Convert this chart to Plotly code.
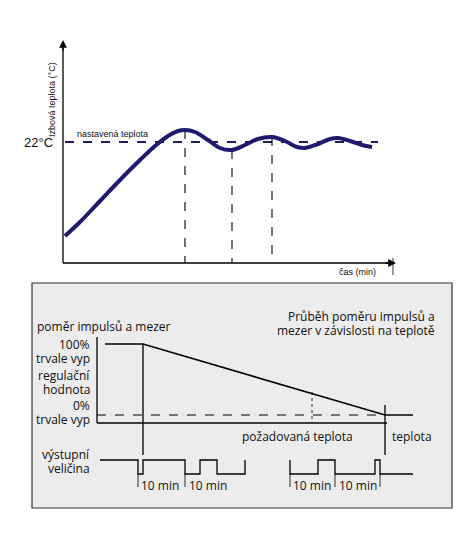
import plotly.graph_objects as go

NAVY = "#1f1a6e"

# top chart: room temperature curve (pixel-like diagram coordinates)
curve_x = [65, 80, 100, 120, 140, 155, 168, 178, 185, 195, 208, 220, 232, 245, 258, 272, 285, 297, 305, 318, 330, 338, 350, 362, 372]
curve_y = [236, 222, 201, 180, 160, 146, 136, 131, 130, 132, 140, 148, 150, 145, 139, 137, 141, 147, 148, 144, 139, 138, 141, 145, 147]
setpoint_x = [65, 378]
setpoint_y = [142, 142]
marker_x = [185, 232, 272]
marker_top = [130, 150, 137]

# bottom chart: pulse ratio vs temperature
ratio_x = [105, 143, 385, 413]
ratio_y = [344, 344, 415, 415]
out1_x = [100, 138, 138, 143, 143, 185, 185, 200, 200, 217, 217, 245, 245]
out1_y = [460, 460, 474, 474, 460, 460, 474, 474, 460, 460, 474, 474, 460]
out2_x = [290, 290, 290, 318, 318, 335, 335, 375, 375, 380, 380, 413]
out2_y = [460, 474, 474, 474, 460, 460, 474, 474, 460, 460, 474, 474]
tick_x = [138, 185, 290, 335, 380]
period_x = [160, 208, 312, 358]

fig = go.Figure()


def line(x, y, color="black", width=1.3, dash="solid", shape="linear"):
    fig.add_trace(go.Scatter(x=x, y=y, mode="lines", hoverinfo="skip",
                             line=dict(color=color, width=width, dash=dash, shape=shape)))


# top axes
line([63, 63], [263, 48])
line([63, 388], [263, 263])
line([393, 393], [258, 275], width=0.8)
line(setpoint_x, setpoint_y, NAVY, 2.2, "dash")
for mx, mt in zip(marker_x, marker_top):
    line([mx, mx], [mt, 263], "black", 1.1, "dash")
line(curve_x, curve_y, NAVY, 4, shape="spline")

# bottom box
fig.add_shape(type="rect", x0=32, y0=283, x1=452, y1=508, fillcolor="#ececec",
              line=dict(color="#333", width=1.2), layer="below")
line([97, 97], [337, 423])
line([97, 387], [423, 423])
line([97, 385], [415, 415], "black", 1, "dash")
line(ratio_x, ratio_y, "black", 1.6)
line([143, 143], [344, 455])
line([312, 312], [392, 423], "black", 0.8, "dot")
line([385, 385], [405, 455])
line(out1_x, out1_y)
line(out2_x, out2_y)
for tx in tick_x:
    line([tx, tx], [474, 487], width=0.8)

arrows = [dict(x=63, y=40, ax=63, ay=52), dict(x=396, y=263, ax=384, ay=263)]
for a in arrows:
    fig.add_annotation(x=a["x"], y=a["y"], ax=a["ax"], ay=a["ay"], xref="x", yref="y", axref="x", ayref="y",
                       showarrow=True, arrowhead=2, arrowsize=1.2, arrowwidth=1.3, arrowcolor="black", text="")

F1 = "Liberation Sans, Arial"
F2 = "Open Sans, Lato"
texts = [
    (38, 142, "22°C", 13, F1, "center"),
    (112, 134, "nastavená teplota", 9, F1, "center"),
    (357, 272, "čas (min)", 9, F1, "center"),
    (35, 326, "poměr impulsů a mezer", 12, F2, "left"),
    (92, 344, "100%", 12, F2, "right"),
    (92, 358, "trvale vyp", 12, F2, "right"),
    (92, 375, "regulační", 12, F2, "right"),
    (92, 389, "hodnota", 12, F2, "right"),
    (92, 405, "0%", 12, F2, "right"),
    (92, 419, "trvale vyp", 12, F2, "right"),
    (437, 316, "Průběh poměru impulsů a", 12, F2, "right"),
    (437, 330, "mezer v závislosti na teplotě", 12, F2, "right"),
    (297, 436, "požadovaná teplota", 12, F2, "center"),
    (412, 436, "teplota", 12, F2, "center"),
    (92, 454, "výstupní", 12, F2, "right"),
    (92, 468, "veličina", 12, F2, "right"),
]
for px in period_x:
    texts.append((px, 485, "10 min", 12, F2, "center"))
for x, y, t, s, f, al in texts:
    fig.add_annotation(x=x, y=y, text=t, showarrow=False, xanchor=al, yanchor="middle",
                       font=dict(size=s, family=f, color="#111"))
fig.add_annotation(x=52, y=100, text="Izbová teplota (°C)", textangle=-90, showarrow=False,
                   font=dict(size=9, family=F1, color="#111"))

fig.update_layout(width=474, height=550, margin=dict(l=0, r=0, t=0, b=0), showlegend=False,
                  plot_bgcolor="white", paper_bgcolor="white")
# page body margin shifts the figure by ~8px, compensate
fig.update_xaxes(range=[8, 482], visible=False)
fig.update_yaxes(range=[558, 8], visible=False)
fig.write_html("out.html")
